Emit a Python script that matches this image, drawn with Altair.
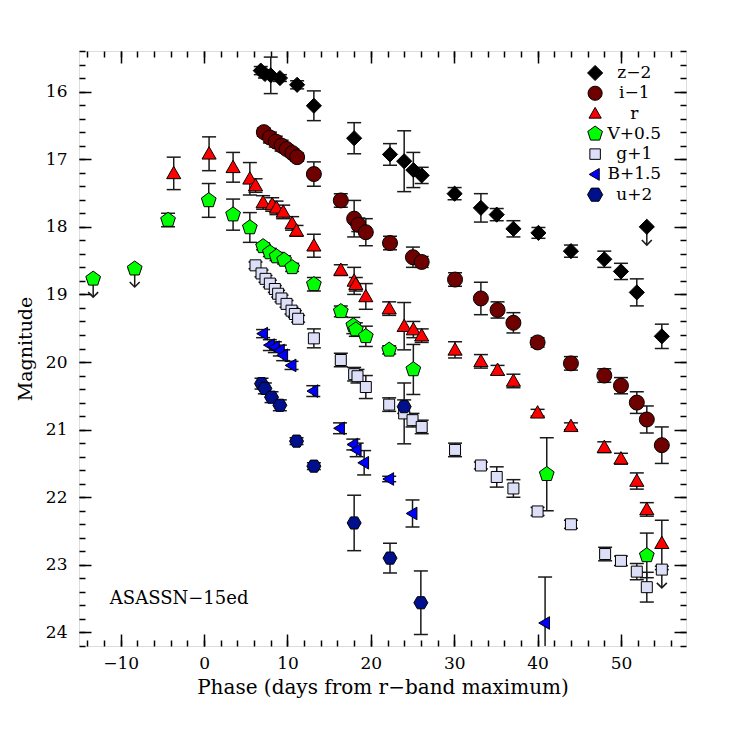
import altair as alt
import pandas as pd

# ---------------- data (phase in days, magnitude, error) ----------------
bands = ["z−2", "i−1", "r", "V+0.5", "g+1", "B+1.5", "u+2"]
colors = ["#000000", "#6e0000", "#ff0000", "#00ff00", "#dcdff7", "#0000ff", "#00108c"]

z_x = [6.8, 7.3, 8.0, 9.1, 11.16, 13.17, 18.0, 22.3, 24.0, 25.1, 26.1, 30.05, 33.2, 35.1, 37.1, 40.1, 44.0, 48.0, 50.0, 51.9, 54.9]
z_y = [15.69, 15.74, 15.76, 15.80, 15.90, 16.21, 16.69, 16.93, 17.03, 17.16, 17.24, 17.51, 17.72, 17.82, 18.03, 18.09, 18.36, 18.48, 18.66, 18.97, 19.62]
z_e = [0.06, 0.06, 0.27, 0.05, 0.06, 0.22, 0.23, 0.16, 0.45, 0.26, 0.12, 0.09, 0.21, 0.09, 0.12, 0.08, 0.09, 0.12, 0.12, 0.20, 0.18]

i_x = [7.17, 7.9, 8.6, 9.3, 9.9, 10.6, 11.16, 13.17, 16.4, 18.0, 18.5, 19.4, 22.3, 25.05, 26.1, 30.1, 33.2, 35.2, 37.1, 40.0, 44.0, 48.0, 50.0, 51.9, 53.1, 54.9]
i_y = [16.60, 16.68, 16.74, 16.80, 16.85, 16.91, 16.97, 17.22, 17.61, 17.88, 17.97, 18.08, 18.24, 18.45, 18.52, 18.78, 19.06, 19.23, 19.42, 19.71, 20.02, 20.20, 20.35, 20.60, 20.85, 21.23]
i_e = [0.06, 0.08, 0.08, 0.08, 0.06, 0.06, 0.06, 0.18, 0.10, 0.27, 0.10, 0.20, 0.10, 0.15, 0.08, 0.10, 0.24, 0.12, 0.15, 0.07, 0.10, 0.10, 0.12, 0.16, 0.20, 0.27]

r_x = [-3.64, 0.6, 3.48, 5.49, 6.17, 7.08, 8.17, 8.69, 9.49, 10.56, 11.09, 13.17, 16.4, 18.0, 18.2, 19.4, 22.2, 24.0, 25.1, 26.1, 30.1, 33.2, 35.2, 37.1, 40.0, 44.0, 48.0, 50.0, 51.9, 53.1, 54.9]
r_y = [17.21, 16.92, 17.12, 17.29, 17.39, 17.64, 17.67, 17.72, 17.78, 17.95, 18.06, 18.28, 18.64, 18.80, 18.85, 19.03, 19.21, 19.47, 19.52, 19.61, 19.82, 19.99, 20.12, 20.28, 20.75, 20.95, 21.26, 21.43, 21.76, 22.18, 22.68]
r_e = [0.24, 0.25, 0.22, 0.24, 0.10, 0.10, 0.10, 0.10, 0.10, 0.10, 0.08, 0.17, 0.08, 0.20, 0.10, 0.19, 0.10, 0.35, 0.12, 0.10, 0.12, 0.10, 0.07, 0.10, 0.05, 0.05, 0.08, 0.08, 0.12, 0.10, 0.34]

v_x = [-4.32, 0.56, 3.48, 5.49, 7.08, 7.89, 8.69, 9.6, 10.56, 13.17, 16.4, 17.9, 18.2, 19.4, 22.2, 25.1, 41.1, 53.1]
v_y = [17.90, 17.61, 17.82, 18.01, 18.29, 18.38, 18.44, 18.49, 18.60, 18.85, 19.25, 19.46, 19.52, 19.62, 19.82, 20.11, 21.66, 22.86]
v_e = [0.10, 0.25, 0.23, 0.22, 0.05, 0.06, 0.06, 0.06, 0.06, 0.10, 0.08, 0.12, 0.10, 0.15, 0.06, 0.37, 0.54, 0.33]

g_x = [6.17, 6.89, 7.37, 7.89, 8.49, 8.88, 9.29, 9.89, 10.49, 10.89, 11.28, 13.17, 16.4, 18.0, 18.4, 19.4, 22.2, 24.0, 25.0, 26.1, 30.1, 33.2, 35.1, 37.1, 40.0, 44.0, 48.1, 50.0, 51.9, 53.1]
g_y = [18.57, 18.69, 18.77, 18.84, 18.92, 18.99, 19.06, 19.14, 19.24, 19.29, 19.36, 19.65, 19.97, 20.18, 20.21, 20.37, 20.63, 20.76, 20.86, 20.96, 21.30, 21.53, 21.70, 21.87, 22.21, 22.40, 22.84, 22.94, 23.10, 23.33]
g_e = [0.05, 0.05, 0.05, 0.05, 0.05, 0.05, 0.05, 0.05, 0.05, 0.05, 0.05, 0.14, 0.10, 0.10, 0.10, 0.17, 0.10, 0.45, 0.10, 0.10, 0.10, 0.05, 0.15, 0.13, 0.06, 0.06, 0.10, 0.07, 0.12, 0.22]

b_x = [7.08, 7.89, 8.49, 9.09, 9.49, 10.49, 13.1, 16.3, 17.9, 18.3, 19.2, 22.2, 25.0, 40.9]
b_y = [19.58, 19.75, 19.78, 19.83, 19.90, 20.05, 20.43, 20.98, 21.22, 21.30, 21.49, 21.73, 22.24, 23.86]
b_e = [0.06, 0.08, 0.08, 0.08, 0.08, 0.06, 0.08, 0.08, 0.08, 0.10, 0.18, 0.04, 0.20, 0.68]

u_x = [6.89, 7.29, 8.09, 9.09, 11.09, 13.17, 18.0, 22.3, 24.0, 26.0]
u_y = [20.32, 20.39, 20.52, 20.64, 21.17, 21.54, 22.38, 22.90, 20.66, 23.56]
u_e = [0.08, 0.08, 0.08, 0.08, 0.05, 0.05, 0.41, 0.22, 0.10, 0.47]

# upper limits
lim_band = ["z−2", "V+0.5", "V+0.5", "g+1"]
lim_x = [53.1, -13.3, -8.32, 54.9]
lim_y = [18.00, 18.77, 18.62, 23.07]

# ---------------- tables ----------------
series = [(z_x, z_y, z_e), (i_x, i_y, i_e), (r_x, r_y, r_e), (v_x, v_y, v_e),
          (g_x, g_y, g_e), (b_x, b_y, b_e), (u_x, u_y, u_e)]
rows = []
for b, (xs_, ys_, es_) in zip(bands, series):
    for x, y, e in zip(xs_, ys_, es_):
        rows.append({"band": b, "x": x, "y": y, "lo": y - e, "hi": y + e})
df = pd.DataFrame(rows)

df_lim = pd.DataFrame({"band": lim_band, "x": lim_x, "y": lim_y})
ARROW = 0.27
df_lim["tip"] = df_lim["y"] + ARROW

df_leg = pd.DataFrame({"band": bands})
df_leg["x"] = 46.9
df_leg["tx"] = 51.6
df_leg["y"] = [15.725 + 0.30 * k for k in range(len(bands))]

df_lab = pd.DataFrame({"x": [-11.3], "y": [23.5], "t": ["ASASSN−15ed"]})

# ---------------- styling ----------------
PENT = "M0,-1L0.951,-0.309L0.588,0.809L-0.588,0.809L-0.951,-0.309Z"
HEX = "M-1,0L-0.5,-0.866L0.5,-0.866L1,0L0.5,0.866L-0.5,0.866Z"
DIAM = "M-1,0L0,-1L1,0L0,1Z"
SQR = "M-1,-1L1,-1L1,1L-1,1Z"
TRI_UP = "M0,-1L1,0.75L-1,0.75Z"
TRI_LEFT = "M-1,0L0.7,-1L0.7,1Z"
shapes = [DIAM, "circle", TRI_UP, PENT, SQR, TRI_LEFT, HEX]
sizes = [230, 225, 200, 240, 121, 160, 196]
leg_sizes = [230, 200, 150, 240, 110, 140, 230]
FONT = "DejaVu Serif"

xs = alt.Scale(domain=[-15.0, 57.8], nice=False, zero=False)
ys = alt.Scale(domain=[15.4, 24.2], reverse=True, nice=False, zero=False)

x_ax = alt.Axis(title="Phase (days from r−band maximum)", values=[-10, 0, 10, 20, 30, 40, 50],
                ticks=False, domain=False, grid=False, labelPadding=9, titlePadding=6,
                labelFont=FONT, labelFontSize=17, titleFont=FONT, titleFontSize=20,
                titleFontWeight="normal", labelColor="black", titleColor="black")
y_ax = alt.Axis(title="Magnitude", values=[16, 17, 18, 19, 20, 21, 22, 23, 24],
                ticks=False, domain=False, grid=False, labelPadding=12, titlePadding=10,
                labelFont=FONT, labelFontSize=17, titleFont=FONT, titleFontSize=19,
                titleFontWeight="normal", labelColor="black", titleColor="black")

X = alt.X("x:Q", scale=xs, axis=x_ax)
Y = alt.Y("y:Q", scale=ys, axis=y_ax)

ERR = "#1a1a1a"
base = alt.Chart(df)
err_rule = base.mark_rule(color=ERR, strokeWidth=1.5, clip=True).encode(
    x=X, y=alt.Y("lo:Q", scale=ys, axis=y_ax), y2="hi:Q")
cap_lo = base.mark_tick(orient="horizontal", color=ERR, size=14, thickness=1.5, clip=True, opacity=1).encode(
    x=X, y=alt.Y("lo:Q", scale=ys, axis=y_ax))
cap_hi = base.mark_tick(orient="horizontal", color=ERR, size=14, thickness=1.5, clip=True, opacity=1).encode(
    x=X, y=alt.Y("hi:Q", scale=ys, axis=y_ax))

lb = alt.Chart(df_lim)
lim_rule = lb.mark_rule(color=ERR, strokeWidth=1.5).encode(x=X, y=Y, y2="tip:Q")
lim_cap = lb.mark_tick(orient="horizontal", color=ERR, size=14, thickness=1.5, opacity=1).encode(x=X, y=Y)
lim_head = lb.mark_point(shape="M-1,-1L0,0L1,-1", filled=False, color=ERR, strokeWidth=1.6,
                         size=100, opacity=1).encode(x=X, y=alt.Y("tip:Q", scale=ys, axis=y_ax))

layers = [err_rule, cap_lo, cap_hi, lim_rule, lim_head, lim_cap]
for b, c, s, sz, lsz in zip(bands, colors, shapes, sizes, leg_sizes):
    style = dict(shape=s, size=sz, fill=c, filled=True, stroke="black", strokeWidth=1, opacity=1)
    layers.append(base.transform_filter(alt.datum.band == b).mark_point(**style).encode(x=X, y=Y))
    layers.append(lb.transform_filter(alt.datum.band == b).mark_point(**style).encode(x=X, y=Y))
    lstyle = dict(style, size=lsz)
    layers.append(alt.Chart(df_leg).transform_filter(alt.datum.band == b)
                  .mark_point(**lstyle).encode(x=X, y=Y))

leg_txt = alt.Chart(df_leg).mark_text(font=FONT, fontSize=17, align="center", baseline="middle",
                                      color="black").encode(
    x=alt.X("tx:Q", scale=xs, axis=x_ax), y=Y, text="band:N")
lab_txt = alt.Chart(df_lab).mark_text(font=FONT, fontSize=18, align="left", baseline="middle",
                                      color="black").encode(x=X, y=Y, text="t:N")
layers += [leg_txt, lab_txt]

main = alt.layer(*layers)


# ---------------- inward ticks on all four sides ----------------
def tick_layer(xorient, yorient, xvals, yvals, length):
    xa = alt.Axis(orient=xorient, values=xvals, tickSize=length, offset=-length, labels=False,
                  domain=False, grid=False, title=None, ticks=True, tickColor="black", tickWidth=1.5)
    ya = alt.Axis(orient=yorient, values=yvals, tickSize=length, offset=-length, labels=False,
                  domain=False, grid=False, title=None, ticks=True, tickColor="black", tickWidth=1.5)
    return alt.Chart(df).mark_point(opacity=0).encode(
        x=alt.X("x:Q", scale=xs, axis=xa), y=alt.Y("y:Q", scale=ys, axis=ya))


maj_x = list(range(-10, 51, 10))
min_x = list(range(-14, 58, 2))
maj_y = list(range(16, 25))
min_y = [round(15.4 + 0.2 * k, 1) for k in range(45)]

t1 = tick_layer("bottom", "left", maj_x, maj_y, 12)
t2 = tick_layer("bottom", "left", min_x, min_y, 6)
t3 = tick_layer("top", "right", maj_x, maj_y, 12)
t4 = tick_layer("top", "right", min_x, min_y, 6)

chart = alt.layer(main, t1, t2, t3, t4).resolve_axis(
    x="independent", y="independent"
).properties(
    width=607, height=595,
    padding={"left": 71, "top": 43, "right": 42, "bottom": 82},
    autosize=alt.AutoSizeParams(type="none"),
).configure_view(stroke="black", strokeWidth=1.5).configure(background="white")

chart.save("out.html", embed_options={"renderer": "svg", "actions": False})
